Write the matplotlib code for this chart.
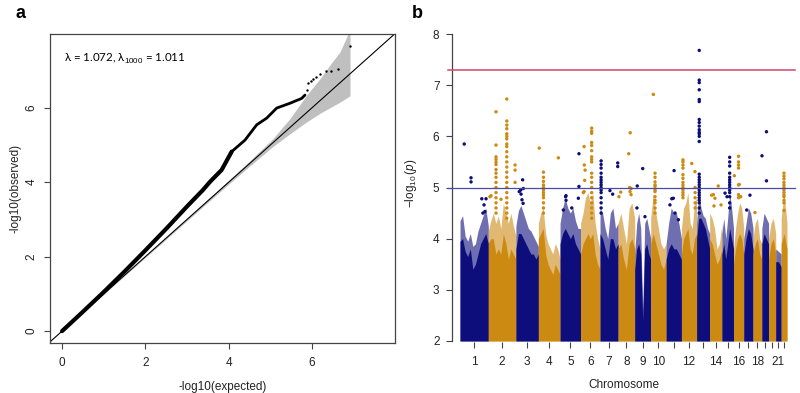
import numpy as np
import matplotlib
matplotlib.use('Agg')
import matplotlib.pyplot as plt

plt.rcParams['font.family'] = ['Liberation Sans', 'DejaVu Sans']
plt.rcParams['mathtext.fontset'] = 'custom'
plt.rcParams['mathtext.rm'] = 'Liberation Sans'
plt.rcParams['mathtext.it'] = 'Liberation Sans:italic'

# ---------------- Panel a: QQ plot data ----------------
qq_exp = [0.0, 0.5, 1.0, 1.5, 2.0, 2.5, 3.0, 3.38, 3.55, 3.83, 4.07]
qq_obs = [0.0, 0.52, 1.05, 1.6, 2.17, 2.75, 3.35, 3.79, 4.01, 4.33, 4.82]
qq_exp_up = [4.07, 4.39, 4.67, 4.91, 5.15, 5.47, 5.75, 5.83]
qq_obs_up = [4.82, 5.13, 5.54, 5.72, 5.99, 6.12, 6.25, 6.34]
qq_tail_exp = [5.87, 5.91, 5.97, 6.03, 6.10, 6.19, 6.34, 6.45, 6.61, 6.91]
qq_tail_obs = [6.48, 6.67, 6.71, 6.76, 6.82, 6.90, 6.98, 6.99, 7.05, 7.66]
band_x = [0.0, 2.0, 4.0, 4.5, 5.06, 5.47, 5.87, 6.19, 6.43, 6.67, 6.91]
band_hi = [0.0, 2.02, 4.05, 4.57, 5.17, 5.71, 6.34, 6.78, 7.15, 7.5, 8.1]
band_lo = [0.0, 1.98, 3.95, 4.43, 4.96, 5.30, 5.62, 5.85, 6.00, 6.15, 6.32]
qq_text = r'λ = 1.072, λ$_{1000}$ = 1.011'

# ---------------- Panel b: Manhattan data ----------------
chrom_len_mb = [249.25, 243.20, 198.02, 191.15, 180.92, 171.12, 159.14, 146.36,
                141.21, 135.53, 135.01, 133.85, 115.17, 107.35, 102.53, 90.35,
                81.20, 78.08, 59.13, 63.03, 48.13, 51.30]
chrom_labels = ['1', '2', '3', '4', '5', '6', '7', '8', '9', '10', '', '12', '',
                '14', '', '16', '', '18', '', '', '21', '']
# upper envelope of the sparse cloud per chromosome (-log10 p), read left to right
envelope = [
    [4.35, 4.45, 4.05, 3.95, 4.1, 3.85, 3.9, 4.15, 4.3, 4.45, 4.6, 4.25],
    [4.15, 4.35, 4.5, 4.3, 4.45, 4.2, 4.7, 4.5, 4.3, 4.5, 4.25, 4.05],
    [4.25, 4.55, 4.65, 4.5, 4.35, 4.2, 4.15, 4.05, 3.95, 3.85],
    [4.3, 4.5, 4.6, 4.1, 3.9, 3.8, 3.7, 3.9, 3.8, 3.6],
    [4.3, 4.6, 4.8, 4.6, 4.5, 4.6, 4.35, 4.2, 4.2],
    [4.3, 4.5, 4.8, 4.9, 4.7, 4.9, 4.3, 4.0, 3.8],
    [4.6, 4.5, 4.2, 4.0, 4.5, 4.6, 4.2, 4.3],
    [4.3, 4.5, 4.2, 3.9, 4.6, 4.7, 4.4],
    [3.7, 4.3, 4.5, 4.2, 2.6, 4.3, 4.4, 4.2, 4.0],
    [4.4, 4.9, 4.5, 4.2, 3.9, 3.8, 3.9],
    [3.9, 4.3, 4.6, 4.5, 4.5, 4.3, 4.0],
    [4.2, 4.6, 4.7, 4.9, 4.3, 4.2, 4.7, 4.8],
    [4.3, 4.9, 4.6, 4.45, 4.4, 4.2, 4.1],
    [4.5, 4.4, 4.2, 3.8, 3.9, 4.3],
    [4.1, 4.4, 4.0, 4.4, 4.9, 4.6, 4.2],
    [3.8, 4.2, 4.5, 4.7, 4.6, 4.2],
    [4.0, 4.3, 4.6, 4.5, 4.2],
    [4.0, 4.3, 4.4, 4.0, 3.9],
    [4.2, 4.5, 4.4, 4.3],
    [4.0, 4.3, 4.4, 4.1],
    [3.8, 3.75, 3.7],
    [4.4, 4.9, 4.3],
]
# level up to which the cloud is solid
core = [
    [3.95, 4.0, 3.75, 3.65, 3.8, 3.4, 3.5, 3.7, 3.9, 4.0, 4.1, 3.9],
    [3.9, 4.0, 4.0, 3.7, 3.8, 3.7, 4.1, 3.9, 3.6, 3.8, 3.7, 3.6],
    [3.8, 4.1, 4.1, 4.0, 3.9, 3.8, 3.7, 3.7, 3.6, 3.7],
    [4.0, 4.1, 4.2, 3.7, 3.5, 3.4, 3.3, 3.5, 3.4, 3.3],
    [3.9, 4.1, 4.2, 4.1, 4.0, 4.1, 3.9, 3.8, 3.7],
    [3.7, 3.9, 4.0, 4.1, 4.0, 4.1, 3.7, 3.5, 3.4],
    [4.1, 4.0, 3.8, 3.6, 4.0, 4.0, 3.8, 3.9],
    [3.8, 3.9, 3.6, 3.4, 3.9, 4.0, 3.8],
    [3.4, 3.8, 3.9, 3.7, 2.4, 3.8, 3.9, 3.7, 3.6],
    [3.9, 4.1, 3.9, 3.7, 3.5, 3.4, 3.6],
    [3.6, 3.8, 3.9, 3.8, 3.8, 3.7, 3.6],
    [3.7, 4.0, 4.1, 4.2, 3.8, 3.7, 4.0, 4.1],
    [4.0, 4.4, 4.4, 4.3, 4.2, 4.0, 3.8],
    [4.0, 3.9, 3.7, 3.5, 3.6, 3.8],
    [3.7, 3.9, 3.6, 3.9, 4.2, 4.0, 3.8],
    [3.5, 3.8, 4.0, 4.1, 4.0, 3.7],
    [3.7, 4.0, 4.2, 4.1, 3.8],
    [3.7, 3.9, 4.0, 3.7, 3.6],
    [3.9, 4.1, 4.0, 3.9],
    [3.6, 3.9, 4.0, 3.7],
    [3.55, 3.55, 3.45],
    [3.9, 4.1, 3.8],
]
# isolated strong SNPs: chromosome, relative position in chromosome, -log10 p
hit_chr = [1, 1, 1, 1, 1, 1, 1, 1,
           2, 2, 2, 2, 2, 2,
           3, 3, 3, 3, 3, 3, 3,
           4, 4,
           5, 5, 5, 5, 5, 5, 5, 5,
           6, 6, 6, 6, 6, 6,
           7, 7, 7, 7,
           8, 8, 8, 8, 8, 8, 8, 8,
           9, 9, 9, 9,
           10,
           11, 11, 11, 11, 11, 11,
           12, 12,
           14, 14, 14, 14, 14, 14,
           15, 15,
           16, 16, 16,
           17, 17,
           18,
           19, 19, 19]
hit_frac = [0.15, 0.39, 0.39, 0.77, 0.92, 0.85, 0.88, 0.81,
            0.06, 0.10, 0.46, 0.97, 0.97, 0.97,
            0.15, 0.30, 0.33, 0.23, 0.21, 0.27, 0.32,
            0.04, 0.92,
            0.27, 0.29, 0.29, 0.16, 0.57, 0.89, 0.92, 0.92,
            0.18, 0.19, 0.23, 0.21, 0.14, 0.18,
            0.55, 0.70, 0.98, 0.98,
            0.05, 0.16, 0.64, 0.73, 0.70, 0.78, 0.78, 0.72,
            0.16, 0.50, 0.14, 0.64,
            0.17,
            0.52, 0.37, 0.47, 0.25, 0.58, 0.80,
            0.68, 0.89,
            0.16, 0.30, 0.70, 0.43, 0.35, 0.93,
            0.27, 0.44,
            0.08, 0.70, 0.56,
            0.67, 0.32,
            0.22,
            0.02, 0.69, 0.69]
hit_val = [5.85, 5.19, 5.11, 4.78, 4.78, 4.66, 4.53, 4.50,
           4.82, 4.84, 4.77, 5.44, 5.34, 5.10,
           4.92, 5.15, 4.98, 4.87, 4.95, 4.76, 4.69,
           5.77, 5.58,
           4.82, 4.84, 4.75, 4.56, 4.60, 4.79, 5.66, 5.02,
           5.80, 5.44, 5.34, 5.14, 4.90, 4.92,
           4.94, 4.87, 5.48, 5.41,
           4.82, 4.91, 5.66, 6.07, 5.00, 4.98, 4.86, 4.92,
           5.03, 5.37, 4.60, 4.43,
           6.82,
           5.33, 4.78, 4.79, 4.66, 4.50, 4.37,
           5.47, 5.31,
           4.85, 4.86, 5.03, 4.79, 4.64, 4.66,
           4.89, 4.82,
           5.23, 4.82, 5.06,
           4.85, 4.56,
           4.51,
           5.62, 6.09, 5.13]
# vertical runs of associated SNPs at one locus
col_chr = [2, 2, 4, 6, 7, 10, 12, 12, 13, 15, 16, 22]
col_frac = [0.28, 0.67, 0.235, 0.57, 0.06, 0.28, 0.10, 0.90, 0.20, 0.67, 0.49, 0.48]
col_vals = [
    [6.48, 5.83, 5.6, 5.55, 5.5, 5.45, 5.35, 5.28, 5.2, 5.1, 5.0, 4.9, 4.8, 4.7, 4.6, 4.5],
    [6.73, 6.3, 6.22, 6.15, 6.05, 6.0, 5.95, 5.85, 5.8, 5.7, 5.6, 5.5, 5.4, 5.3, 5.2,
     5.1, 5.0, 4.9, 4.8, 4.7, 4.6, 4.5, 4.4],
    [5.3, 5.2, 5.12, 5.05, 5.0, 4.95, 4.9, 4.85, 4.8, 4.7, 4.6, 4.5],
    [6.16, 6.1, 6.06, 5.88, 5.82, 5.72, 5.6, 5.55, 5.5, 5.28, 5.2, 5.1, 5.0, 4.9, 4.8,
     4.7, 4.6, 4.5, 4.4],
    [5.52, 5.45, 5.38, 5.28, 5.2, 5.15, 5.1, 5.05, 5.0, 4.95, 4.9, 4.8, 4.7, 4.6, 4.5],
    [5.28, 5.2, 5.11, 5.05, 5.02, 4.95, 4.92, 4.82, 4.75, 4.7, 4.6, 4.5],
    [5.54, 5.5, 5.44, 5.38, 5.25, 5.18, 5.1, 5.05, 5.0, 4.95, 4.9, 4.85, 4.8],
    [5.0, 4.9, 4.8, 4.7, 4.6],
    [7.68, 7.1, 7.05, 6.91, 6.72, 6.68, 6.33, 6.27, 6.2, 6.13, 6.08, 6.05, 6.0, 5.9,
     5.26, 5.2, 5.15, 5.1, 5.05, 5.0, 4.95, 4.9, 4.85, 4.8, 4.75, 4.7, 4.6, 4.5],
    [5.59, 5.5, 5.42, 5.28, 5.2, 5.15, 5.1, 5.05, 5.0, 4.95, 4.9, 4.82, 4.7, 4.6],
    [5.61, 5.5, 5.44, 5.38, 5.05, 4.86, 4.8],
    [5.28, 5.22, 5.17, 5.1, 5.05, 5.0, 4.95, 4.9, 4.85, 4.82, 4.75, 4.7, 4.55],
]
genome_wide = 7.3
suggestive = 5.0

BLUE = '#0d0d7c'
ORANGE = '#cd8a12'
AXC = '#444444'
TXT = '#222222'

fig = plt.figure(figsize=(8, 3.93), dpi=100)

# ================= Panel a =================
axa = fig.add_axes([50 / 800, 1 - 343 / 393, 345 / 800, 309 / 393])
axa.set_xlim(-0.29, 7.99)
axa.set_ylim(-0.32, 7.98)
axa.fill_between(band_x, band_lo, band_hi, color='#bfbfbf', lw=0, zorder=1)
axa.plot([-1, 9], [-1, 9], color='black', lw=0.8, zorder=2)
axa.plot(qq_exp, qq_obs, color='black', lw=3.0, solid_capstyle='round',
         solid_joinstyle='round', zorder=3)
axa.plot(qq_exp_up, qq_obs_up, color='black', lw=2.0, solid_capstyle='round',
         solid_joinstyle='round', zorder=3)
axa.scatter(qq_tail_exp, qq_tail_obs, s=3, color='black', lw=0, zorder=3)
axa.text(0.04, 7.3, qq_text, fontsize=8.3, family=['Lato', 'DejaVu Sans'],
         ha='left', va='center', color='black')
for sp in axa.spines.values():
    sp.set_color(AXC)
    sp.set_linewidth(0.9)
axa.set_xticks([0, 2, 4, 6])
axa.set_yticks([0, 2, 4, 6])
axa.tick_params(axis='both', colors=AXC, labelcolor=TXT, labelsize=8.5,
                length=4, width=0.8)
axa.tick_params(axis='x', pad=6)
axa.tick_params(axis='y', pad=5)
for lab in axa.get_yticklabels():
    lab.set_rotation(90)
    lab.set_va('center')
axa.set_xlabel('-log10(expected)', fontsize=8.5, color=TXT, labelpad=9)
axa.set_ylabel('-log10(observed)', fontsize=8.5, color=TXT, labelpad=3)
fig.text(21 / 800, 1 - 13 / 393, 'a', fontsize=13, fontweight='bold',
         ha='center', va='center')

# ================= Panel b =================
axb = fig.add_axes([452 / 800, 1 - 342 / 393, 343 / 800, (342 - 23.8) / 393])
starts = np.concatenate([[0.0], np.cumsum(chrom_len_mb)[:-1]])
ends = np.cumsum(chrom_len_mb)
centers = (starts + ends) / 2
total = ends[-1]
pad_mb = 8 / (327 / total)
axb.set_xlim(-pad_mb, total + pad_mb)
axb.set_ylim(1.98, 8.2)

for i in range(len(chrom_len_mb)):
    col = BLUE if i % 2 == 0 else ORANGE
    xs = np.linspace(starts[i], ends[i], len(envelope[i]))
    axb.fill_between(xs, 2.0, envelope[i], color=col, alpha=0.6, lw=0, zorder=1)
    xc = np.linspace(starts[i], ends[i], len(core[i]))
    axb.fill_between(xc, 2.0, core[i], color=col, lw=0, zorder=2)

hx, hy, hc = [], [], []
for c, f, v in zip(hit_chr, hit_frac, hit_val):
    hx.append(starts[c - 1] + f * chrom_len_mb[c - 1])
    hy.append(v)
    hc.append(BLUE if (c - 1) % 2 == 0 else ORANGE)
for c, f, vals in zip(col_chr, col_frac, col_vals):
    for v in vals:
        hx.append(starts[c - 1] + f * chrom_len_mb[c - 1])
        hy.append(v)
        hc.append(BLUE if (c - 1) % 2 == 0 else ORANGE)
axb.scatter(hx, hy, s=6, c=hc, lw=0, zorder=3)

axb.axhline(genome_wide, xmin=-0.012, xmax=1, color='#d2476a', lw=1.1,
            clip_on=False, zorder=4)
axb.axhline(suggestive, xmin=-0.012, xmax=1, color='#4a4aa8', lw=0.9,
            clip_on=False, zorder=4)

for s in ['top', 'right', 'bottom']:
    axb.spines[s].set_visible(False)
axb.spines['left'].set_bounds(2, 8)
axb.spines['left'].set_color(AXC)
axb.spines['left'].set_linewidth(0.9)
axb.set_yticks([2, 3, 4, 5, 6, 7, 8])
axb.set_xticks(centers)
axb.set_xticklabels(chrom_labels)
axb.tick_params(axis='both', colors=AXC, labelcolor=TXT, labelsize=8.5,
                length=4, width=0.8)
axb.tick_params(axis='x', pad=6)
axb.tick_params(axis='y', pad=5)
axb.set_xlabel('Chromosome', fontsize=8.5, color=TXT, labelpad=8)
axb.set_ylabel(r'$-\log_{10}(\mathit{p})$', fontsize=8.5, color=TXT, labelpad=10)
fig.text(417 / 800, 1 - 13 / 393, 'b', fontsize=13, fontweight='bold',
         ha='center', va='center')

fig.savefig('out.png', dpi=100)
